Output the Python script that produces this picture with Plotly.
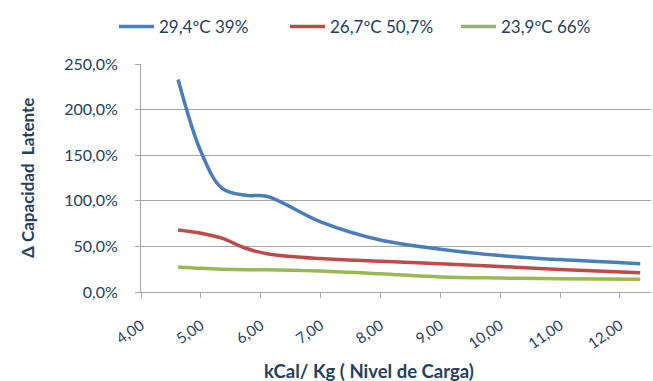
import plotly.graph_objects as go

# Nivel de carga (kCal/Kg)
carga = [4.62, 5.0, 5.35, 5.75, 6.1, 7.0, 8.0, 9.0, 10.0, 11.0, 12.34]

# Incremento de capacidad latente (%) por condición
serie_29 = [233, 154, 114, 106, 105, 77, 57, 47, 40, 35.5, 31]
serie_26 = [68, 64.5, 59, 48, 42, 36.6, 33.7, 31, 28, 24.6, 21]
serie_23 = [27.5, 26, 25, 24.5, 24.5, 23, 20, 16.5, 15.3, 14.5, 14]

nombres = ["29,4ºC 39%", "26,7ºC 50,7%", "23,9ºC 66%"]
colores = ["#4A7EBB", "#BE4B48", "#98B954"]

x_ticks = [4, 5, 6, 7, 8, 9, 10, 11, 12]
y_ticks = [0, 50, 100, 150, 200, 250]
y_labels = ["0,0%", "50,0%", "100,0%", "150,0%", "200,0%", "250,0%"]

texto = "#243F60"
gris = "#A6A6A6"

fig = go.Figure()
for nombre, valores, color in zip(nombres, [serie_29, serie_26, serie_23], colores):
    fig.add_trace(go.Scatter(
        x=carga, y=valores, name=nombre, mode="lines",
        line=dict(color=color, width=3.5, shape="spline", smoothing=1.0),
    ))

fig.update_layout(
    width=653, height=381,
    margin=dict(l=141, r=2, t=64, b=89),
    paper_bgcolor="white", plot_bgcolor="white",
    separators=",.",
    font=dict(family="Lato", size=14, color=texto),
    showlegend=True,
    legend=dict(orientation="h", x=(121 - 7) / 653, y=1 - 27 / 381, xref="container", yref="container",
                xanchor="left", yanchor="middle", font=dict(size=17, color=texto),
                itemwidth=35, entrywidth=121, entrywidthmode="pixels",
                tracegroupgap=0, traceorder="normal"),
    annotations=[
        dict(text="<b>kCal/ Kg ( Nivel de Carga)</b>", x=(369 - 141) / 510, y=(292 - 371) / 228,
             xref="paper", yref="paper", xanchor="center", yanchor="middle",
             showarrow=False, font=dict(size=18.5, color=texto)),
        dict(text="<b>Δ Capacidad  Latente</b>", x=(27 - 141) / 510, y=0.5, textangle=-90,
             xref="paper", yref="paper", xanchor="center", yanchor="middle",
             showarrow=False, font=dict(size=17, color=texto)),
    ],
)

fig.update_xaxes(
    range=[4, 12.52], tickvals=x_ticks, tickformat=".2f", tickangle=-35,
    showgrid=False, showline=True, linecolor=gris, linewidth=1,
    ticks="outside", tickcolor=gris, ticklen=5, zeroline=False,
    ticklabelstandoff=13, tickfont=dict(size=15, color=texto),
)
fig.update_yaxes(
    range=[0, 250], tickvals=y_ticks, ticktext=y_labels,
    showgrid=True, gridcolor=gris, gridwidth=1,
    showline=True, linecolor=gris, linewidth=1,
    ticks="outside", tickcolor=gris, ticklen=5, zeroline=False,
    ticklabelstandoff=14, tickfont=dict(size=16, color=texto),
)

fig.write_html("out.html")
